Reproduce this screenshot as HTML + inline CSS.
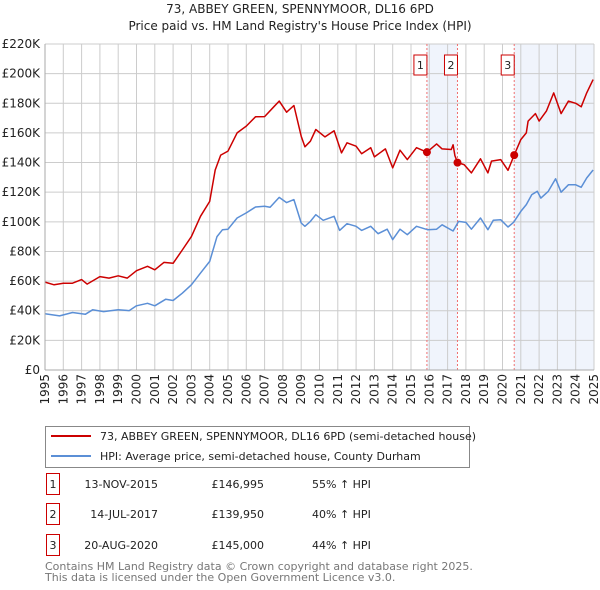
<!DOCTYPE html>
<html><head><meta charset="utf-8"><style>
body{margin:0;background:#fff;font-family:"Liberation Sans","DejaVu Sans",sans-serif;}
#wrap{position:relative;width:600px;height:590px;overflow:hidden}
svg text{font-family:"DejaVu Sans","Liberation Sans",sans-serif}
</style></head><body>
<div id="wrap">
<svg id="c" width="600" height="590"></svg>
</div>
<script>
const yTicks=[0,20,40,60,80,100,120,140,160,180,200,220];
const yearTicks=[];for(let yr=1995;yr<=2025;yr++)yearTicks.push(yr);
const redYears=[1995,1995.5,1996,1996.5,1997,1997.3,1998,1998.5,1999,1999.5,2000,2000.6,2001,2001.5,2002,2002.5,2003,2003.5,2004,2004.3,2004.6,2005,2005.5,2006,2006.5,2007,2007.5,2007.8,2008.2,2008.6,2009,2009.2,2009.5,2009.8,2010.3,2010.8,2011.2,2011.5,2012,2012.3,2012.8,2013,2013.6,2014,2014.4,2014.8,2015.3,2015.87,2016.4,2016.7,2017.2,2017.3,2017.4,2017.54,2017.9,2018.3,2018.8,2019.2,2019.4,2019.9,2020.3,2020.64,2021,2021.3,2021.4,2021.8,2022,2022.4,2022.8,2023.2,2023.6,2024,2024.3,2024.6,2024.95];
const redVals=[59.3,57.5,58.6,58.6,61,58,63,62,63.6,62,67,70,67.6,72.6,72,81,90,103.7,113.8,135,145,147.7,160,164.6,170.9,171,177.6,181.5,174,178.5,157.8,150.6,154.4,162.3,157.3,161.4,146.5,153.3,151,146,150,143.8,149.2,136.4,148.3,142,150,147,152.6,149.2,148.8,152,144.7,139.95,138.6,133,142.5,133,141,142,134.8,145,155.5,160,168,173,168,174.7,187,173,181.5,180,177.6,187,196];
const blueYears=[1995,1995.8,1996.5,1997.2,1997.6,1998.2,1999,1999.6,2000,2000.6,2001,2001.6,2002,2002.5,2003,2003.5,2004,2004.4,2004.7,2005,2005.5,2006,2006.5,2007,2007.3,2007.8,2008.2,2008.6,2009,2009.2,2009.5,2009.8,2010.2,2010.8,2011.1,2011.5,2012,2012.3,2012.8,2013.2,2013.7,2014,2014.4,2014.8,2015.3,2015.9,2016.4,2016.7,2017.3,2017.6,2018,2018.3,2018.8,2019.2,2019.5,2019.9,2020.3,2020.6,2021,2021.3,2021.6,2021.9,2022.1,2022.5,2022.9,2023.2,2023.6,2024,2024.3,2024.6,2024.95];
const blueVals=[37.9,36.5,38.8,37.6,40.6,39.4,40.6,40.1,43.3,45,43.3,47.8,46.9,51.8,57.5,65.4,73.3,90,94.7,95,102.6,106,110,110.5,109.8,116.5,113,115,99.2,97,100.3,104.8,101,103.7,94.2,98.7,97,94.2,97,92,95,88,95,91.3,97,94.7,95,98,93.8,100.3,99.6,95,102.6,94.7,101,101.4,96.5,99.6,107,111.6,118.4,120.6,116,120.6,129,120,125,125,123.3,129.6,135];
const saleLabels=["1","2","3"];
const saleYears=[2015.87,2017.54,2020.64];
const salePrices=[146.995,139.95,145];

const NS="http://www.w3.org/2000/svg";
const svg=document.getElementById('c');
const X0=45,X1=594,Y0=370,Y1=44;
const x=yr=>X0+(yr-1995)/30*(X1-X0);
const y=v=>Y0-v/220*(Y0-Y1);
function mk(tag,attrs,parent){const e=document.createElementNS(NS,tag);for(const k in attrs)e.setAttribute(k,attrs[k]);(parent||svg).appendChild(e);return e;}

let t=mk('text',{x:300,y:13,'text-anchor':'middle','font-size':12,fill:'#222'});t.textContent="73, ABBEY GREEN, SPENNYMOOR, DL16 6PD";


t=mk('text',{x:300,y:30,'text-anchor':'middle','font-size':12,fill:'#222'});t.textContent="Price paid vs. HM Land Registry's House Price Index (HPI)";



let r=mk('rect',{x:x(saleYears[0]),y:Y1,width:x(saleYears[1])-x(saleYears[0]),height:Y0-Y1,fill:'#f0f4fc'});


r=mk('rect',{x:x(saleYears[2]),y:Y1,width:X1-x(saleYears[2]),height:Y0-Y1,fill:'#f0f4fc'});



yTicks.forEach(v=>{
  const l=mk('line',{x1:X0,x2:X1,y1:y(v),y2:y(v),stroke:'#ccc','stroke-width':1});
  
  
  const tx=mk('text',{x:40,y:y(v)+4,'text-anchor':'end','font-size':12,fill:'#222'});
  tx.textContent=v===0?'£0':'£'+v+'K';
  
  
});
yearTicks.forEach(yr=>{
  const l=mk('line',{x1:x(yr),x2:x(yr),y1:Y1,y2:Y0,stroke:'#ccc','stroke-width':1});
  
  
  const tx=mk('text',{x:0,y:0,'text-anchor':'end','font-size':12,fill:'#222',transform:`translate(${x(yr)+4},374) rotate(-90)`});
  tx.textContent=yr;
  
  
});

saleYears.forEach((yr,i)=>{
  const l=mk('line',{x1:x(yr),x2:x(yr),y1:Y1,y2:Y0,stroke:'#f07070','stroke-width':1,'stroke-dasharray':'2,2'});
  
  
  const b=mk('rect',{x:x(yr)-13,y:55,width:13,height:20,fill:'#fff',stroke:'#c00','stroke-width':1});
  
  
  const tx=mk('text',{x:x(yr)-6.5,y:69,'text-anchor':'middle','font-size':11,fill:'#222'});
  tx.textContent=saleLabels[i];
  
  
});

function line(xs,vs,color,name){
  const p=mk('polyline',{points:xs.map((v,i)=>x(v).toFixed(1)+','+y(vs[i]).toFixed(1)).join(' '),fill:'none',stroke:color,'stroke-width':1.5,'stroke-linejoin':'round'});
  
  
}
line(blueYears,blueVals,'#5b8fd6','hpi-line');
line(redYears,redVals,'#cc0000','price-paid-line');
saleYears.forEach((yr,i)=>{
  const c=mk('circle',{cx:x(yr),cy:y(salePrices[i]),r:4,fill:'#cc0000'});
  
  
});
mk('line',{x1:X0,x2:X0,y1:Y1,y2:Y0,stroke:'#aaa'});
mk('line',{x1:X0,x2:X1,y1:Y0,y2:Y0,stroke:'#aaa'});

const lg=mk('rect',{x:45.5,y:426.5,width:424,height:41,fill:'#fff',stroke:'#888'});


mk('line',{x1:51,x2:91,y1:436,y2:436,stroke:'#cc0000','stroke-width':2});
mk('line',{x1:51,x2:91,y1:456,y2:456,stroke:'#5b8fd6','stroke-width':2});
t=mk('text',{x:100,y:440,'font-size':11,fill:'#222'});t.textContent="73, ABBEY GREEN, SPENNYMOOR, DL16 6PD (semi-detached house)";


t=mk('text',{x:100,y:460,'font-size':11,fill:'#222'});t.textContent="HPI: Average price, semi-detached house, County Durham";



const dates=["13-NOV-2015","14-JUL-2017","20-AUG-2020"];
const prices=["£146,995","£139,950","£145,000"];
const hpis=["55% ↑ HPI","40% ↑ HPI","44% ↑ HPI"];
const rowY=[484,514,545];
rowY.forEach((ry,i)=>{
  const b=mk('rect',{x:46.5,y:ry-10.5,width:13,height:21,fill:'#fff',stroke:'#c00'});
  
  
  let tt=mk('text',{x:53,y:ry+4,'text-anchor':'middle','font-size':11,fill:'#222'});tt.textContent=saleLabels[i];
  
  
  tt=mk('text',{x:158,y:ry+4,'text-anchor':'end','font-size':11,fill:'#222'});tt.textContent=dates[i];
  
  
  tt=mk('text',{x:264,y:ry+4,'text-anchor':'end','font-size':11,fill:'#222'});tt.textContent=prices[i];
  
  
  tt=mk('text',{x:312,y:ry+4,'font-size':11,fill:'#222'});tt.textContent=hpis[i];
  
  
});
t=mk('text',{x:45,y:570,'font-size':11,fill:'#777'});t.textContent="Contains HM Land Registry data © Crown copyright and database right 2025.";


t=mk('text',{x:45,y:581,'font-size':11,fill:'#777'});t.textContent="This data is licensed under the Open Government Licence v3.0.";


</script>
</body></html>
